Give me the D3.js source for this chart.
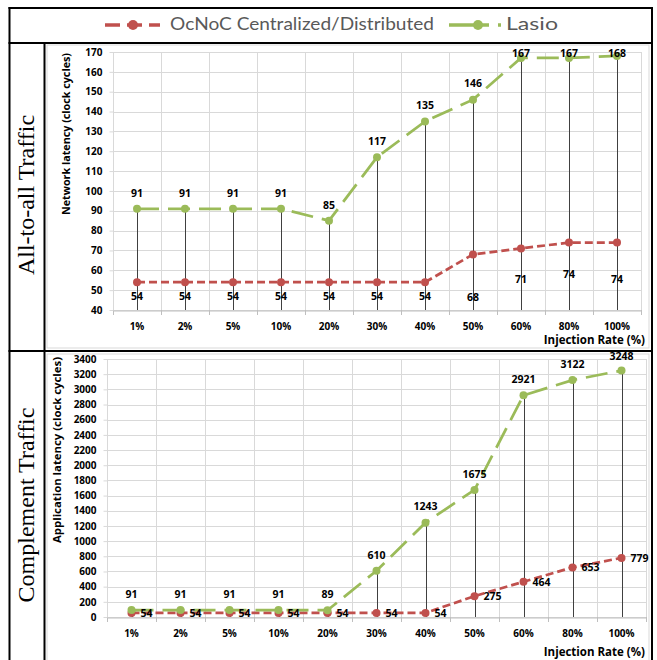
<!DOCTYPE html>
<html><head><meta charset="utf-8">
<script src="https://cdn.jsdelivr.net/npm/d3@7"></script>
<style>html,body{margin:0;padding:0;background:#fff}svg{display:block}</style>
</head><body>
<script>
// ---- data ----
const categories = ['1%','2%','5%','10%','20%','30%','40%','50%','60%','80%','100%'];
const netOcnoc = [54,54,54,54,54,54,54,68,71,74,74];
const netLasio = [91,91,91,91,85,117,135,146,167,167,168];
const appOcnoc = [54,54,54,54,54,54,54,275,464,653,779];
const appLasio = [91,91,91,91,89,610,1243,1675,2921,3122,3248];
const netTicks = [40,50,60,70,80,90,100,110,120,130,140,150,160,170];
const appTicks = [0,200,400,600,800,1000,1200,1400,1600,1800,2000,2200,2400,2600,2800,3000,3200,3400];
const seriesNames = ['OcNoC Centralized/Distributed','Lasio'];
// label nudges (layout only) for the OcNoC labels of the top chart
const netOcnocLabelDy = [15,15,15,15,15,15,15,44,32,33,38];

const RED = '#C0504D', GREEN = '#9BBB59';
const W = 657, H = 660;
const FONT = 'Lato, sans-serif';
const BFONT = '"Open Sans", "Noto Sans", sans-serif';

const svg = d3.select('body').append('svg').attr('width', W).attr('height', H);

// ---- chart panels (light frames) ----
svg.append('rect').attr('x',47).attr('y',45).attr('width',602).attr('height',303)
  .attr('fill','#fff').attr('stroke','#D9D9D9');
svg.append('rect').attr('x',47).attr('y',354).attr('width',602).attr('height',310)
  .attr('fill','#fff').attr('stroke','#D9D9D9');

function drawChart(cfg){
  const g = svg.append('g');
  const x = d3.scaleBand().domain(categories).range(cfg.xr);
  const y = d3.scaleLinear().domain(cfg.domain).range(cfg.yr);
  const cx = d => x(d) + x.bandwidth()/2;
  // horizontal grid
  g.append('g').selectAll('line').data(cfg.ticks).join('line')
    .attr('x1', cfg.xr[0]).attr('x2', cfg.xr[1])
    .attr('y1', d => Math.round(y(d))+0.5).attr('y2', d => Math.round(y(d))+0.5)
    .attr('stroke','#D9D9D9').attr('stroke-width',1);
  // vertical grid at category boundaries
  const bounds = categories.map(c => x(c)).concat([cfg.xr[1]]);
  g.append('g').selectAll('line').data(bounds).join('line')
    .attr('x1', d => Math.round(d)+0.5).attr('x2', d => Math.round(d)+0.5)
    .attr('y1', cfg.yr[1]).attr('y2', cfg.yr[0])
    .attr('stroke','#D9D9D9').attr('stroke-width',1);
  // x axis
  const xAxis = d3.axisBottom(x).tickSize(0).tickPadding(0);
  const ax = g.append('g').attr('transform', `translate(0,${cfg.yr[0]+0.5})`).call(xAxis);
  ax.select('.domain').attr('stroke','#BFBFBF');
  ax.selectAll('.tick text').attr('dy', null).attr('y', cfg.xLabelDy)
    .attr('font-family', BFONT).attr('font-weight','bold').attr('font-size','10px').attr('fill','#000');
  g.append('g').selectAll('line').data(bounds).join('line')
    .attr('x1', d => Math.round(d)+0.5).attr('x2', d => Math.round(d)+0.5)
    .attr('y1', cfg.yr[0]).attr('y2', cfg.yr[0]+5).attr('stroke','#BFBFBF');
  // y axis
  const yAxis = d3.axisLeft(y).tickValues(cfg.ticks).tickFormat(d3.format('d')).tickSize(4).tickPadding(7);
  const ay = g.append('g').attr('transform', `translate(${cfg.xr[0]+0.5},0)`).call(yAxis);
  ay.select('.domain').remove();
  ay.selectAll('.tick line').attr('stroke','#D9D9D9');
  ay.selectAll('.tick text').attr('font-family', BFONT).attr('font-weight','bold')
    .attr('font-size','10px').attr('fill','#000');
  // axis titles
  g.append('text').attr('transform', `translate(${cfg.yTitlePos[0]},${cfg.yTitlePos[1]}) rotate(-90)`)
    .attr('text-anchor','middle').attr('dominant-baseline','middle')
    .attr('font-family', BFONT).attr('font-weight','bold').attr('font-size','10.5px')
    .attr('textLength', cfg.yTitleLen).attr('lengthAdjust','spacingAndGlyphs')
    .text(cfg.yTitle);
  g.append('text').attr('x', 645).attr('y', cfg.xTitleY).attr('text-anchor','end')
    .attr('font-family', BFONT).attr('font-weight','bold').attr('font-size','11.5px')
    .text('Injection Rate (%)');
  // drop lines from Lasio points to axis
  g.append('g').selectAll('line').data(cfg.lasio).join('line')
    .attr('x1', (d,i) => Math.round(cx(categories[i]))+0.5).attr('x2', (d,i) => Math.round(cx(categories[i]))+0.5)
    .attr('y1', d => y(d)).attr('y2', cfg.yr[0])
    .attr('stroke','#404040').attr('stroke-width',1);
  // series
  const series = [
    {vals: cfg.ocnoc, color: RED, dash: '8,4'},
    {vals: cfg.lasio, color: GREEN, dash: '22,9'}
  ];
  series.forEach(s => {
    const line = d3.line().x((d,i) => cx(categories[i])).y(d => y(d));
    g.append('path').datum(s.vals).attr('d', line).attr('fill','none')
      .attr('stroke', s.color).attr('stroke-width', 2.75).attr('stroke-dasharray', s.dash);
    g.append('g').selectAll('circle').data(s.vals).join('circle')
      .attr('cx', (d,i) => cx(categories[i])).attr('cy', d => y(d)).attr('r', 4)
      .attr('fill', s.color);
  });
  // labels
  const lbl = g.append('g').attr('font-family', BFONT).attr('font-weight','bold')
    .attr('font-size','10.5px').attr('fill','#000');
  lbl.selectAll('text.l').data(cfg.lasio).join('text').attr('class','l')
    .attr('x', (d,i) => cx(categories[i])).attr('y', d => Math.max(y(d) - 15, cfg.labelMinY))
    .attr('text-anchor','middle').attr('dominant-baseline','middle').text(d => d);
  lbl.selectAll('text.o').data(cfg.ocnoc).join('text').attr('class','o')
    .attr('x', (d,i) => cfg.ocnocRight ? cx(categories[i]) + 9 : cx(categories[i]))
    .attr('y', (d,i) => cfg.ocnocRight ? y(d) + 1 : y(d) + cfg.ocnocDy[i])
    .attr('text-anchor', cfg.ocnocRight ? 'start' : 'middle')
    .attr('dominant-baseline','middle').text(d => d);
}

drawChart({
  xr: [113, 641], yr: [310, 52], domain: [40, 170], ticks: netTicks,
  ocnoc: netOcnoc, lasio: netLasio, ocnocDy: netOcnocLabelDy, ocnocRight: false,
  labelMinY: 54, xLabelDy: 19, xTitleY: 344,
  yTitle: 'Network latency (clock cycles)', yTitlePos: [67, 134], yTitleLen: 162
});
drawChart({
  xr: [107, 646], yr: [617, 359], domain: [0, 3400], ticks: appTicks,
  ocnoc: appOcnoc, lasio: appLasio, ocnocRight: true,
  labelMinY: 357, xLabelDy: 19, xTitleY: 656,
  yTitle: 'Application latency (clock cycles)', yTitlePos: [58, 450], yTitleLen: 186
});

// ---- table frame ----
const frame = svg.append('g').attr('stroke','#000').attr('stroke-width',2).attr('fill','none');
frame.append('line').attr('x1',9.5).attr('x2',9.5).attr('y1',7).attr('y2',H);
frame.append('line').attr('x1',652).attr('x2',652).attr('y1',7).attr('y2',H);
frame.append('line').attr('x1',8.5).attr('x2',653).attr('y1',8).attr('y2',8);
frame.append('line').attr('x1',8.5).attr('x2',653).attr('y1',43).attr('y2',43);
frame.append('line').attr('x1',8.5).attr('x2',653).attr('y1',351).attr('y2',351);
frame.append('line').attr('x1',44.5).attr('x2',44.5).attr('y1',43).attr('y2',H);

// row labels
[['All-to-all Traffic', 195], ['Complement Traffic', 505]].forEach(([t, cy]) => {
  svg.append('text').attr('transform', `translate(28,${cy}) rotate(-90)`)
    .attr('text-anchor','middle').attr('dominant-baseline','middle')
    .attr('font-family','"Liberation Serif", "Times New Roman", serif').attr('font-size','24px')
    .text(t);
});

// ---- legend ----
const leg = svg.append('g');
const legItems = [
  {name: seriesNames[0], color: RED, x0: 105, x1: 160, mx: 133, dash: '15,7', tx: 170, tl: 264},
  {name: seriesNames[1], color: GREEN, x0: 449, x1: 501, mx: 478, dash: '40,9', tx: 506, tl: 52}
];
legItems.forEach(it => {
  leg.append('line').attr('x1', it.x0).attr('x2', it.x1).attr('y1', 25).attr('y2', 25)
    .attr('stroke', it.color).attr('stroke-width', 3.5).attr('stroke-dasharray', it.dash);
  leg.append('circle').attr('cx', it.mx).attr('cy', 25).attr('r', 5).attr('fill', it.color);
  leg.append('text').attr('x', it.tx).attr('y', 25).attr('dominant-baseline','middle')
    .attr('font-family', FONT).attr('font-size','18px').attr('fill','#595959')
    .attr('textLength', it.tl).attr('lengthAdjust','spacingAndGlyphs').text(it.name);
});
</script>
</body></html>
